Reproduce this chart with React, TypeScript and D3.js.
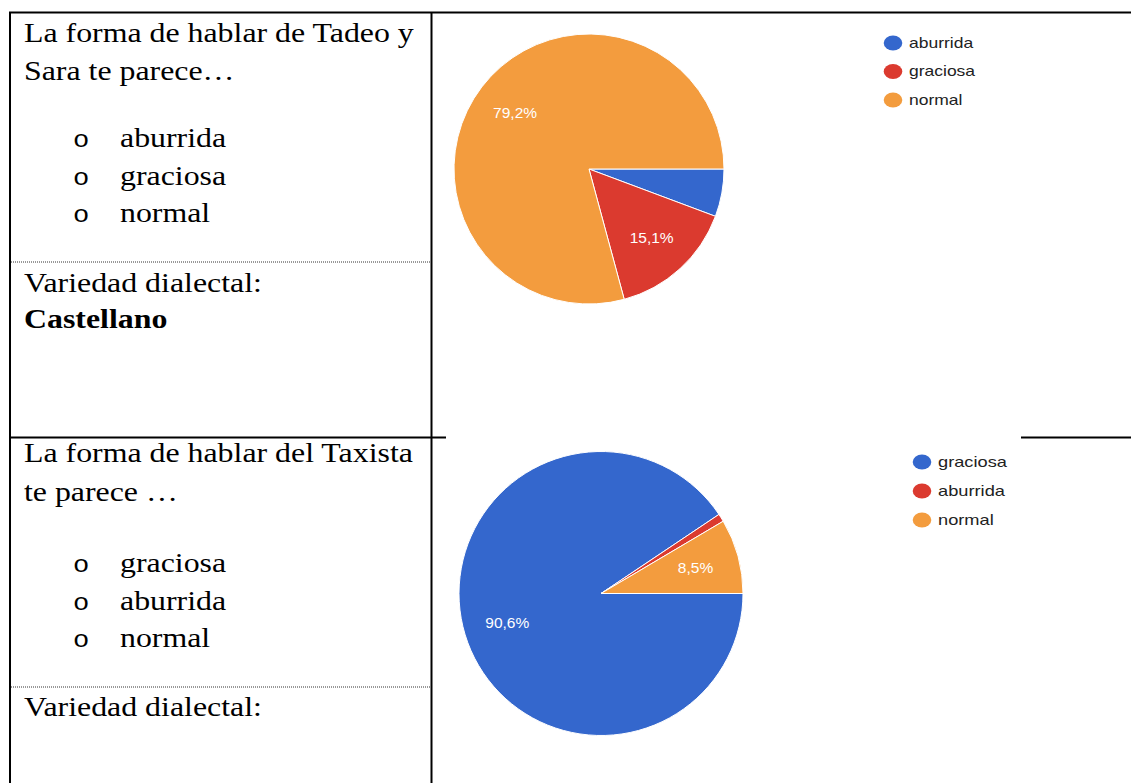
import React from "react";
import * as d3 from "d3";

// ---------- data ----------
const chart1Categories = ["aburrida", "graciosa", "normal"];
const chart1Values = [5.7, 15.1, 79.2];
const chart2Categories = ["graciosa", "aburrida", "normal"];
const chart2Values = [90.6, 0.9, 8.5];
const palette = ["#3467cd", "#db3a2f", "#f39c3e"];

const row1Question = ["La forma de hablar de Tadeo y", "Sara te parece…"];
const row1Options = ["aburrida", "graciosa", "normal"];
const row1Variety = "Variedad dialectal:";
const row1VarietyValue = "Castellano";
const row2Question = ["La forma de hablar del Taxista", "te parece …"];
const row2Options = ["graciosa", "aburrida", "normal"];
const row2Variety = "Variedad dialectal:";

const W = 1131;
const H = 783;
const SERIF = "'Liberation Serif', 'Times New Roman', serif";
const MONO = "'Liberation Mono', 'Courier New', monospace";
const SANS = "'Liberation Sans', Arial, Helvetica, sans-serif";
const STRETCH = 1.25;
const SERIF_STRETCH = 1.18;
const SERIF_SIZE = 27;

const fmt = d3.formatLocale({ decimal: ",", thousands: ".", grouping: [3], currency: ["", "€"] }).format(".1f");

type PieProps = {
  cx: number;
  cy: number;
  r: number;
  categories: string[];
  values: number[];
  legendX: number;
  legendY: number;
  legendStep: number;
  legendFont: number;
};

function PieChart({ cx, cy, r, categories, values, legendX, legendY, legendStep, legendFont }: PieProps) {
  const total = d3.sum(values);
  const pie = d3
    .pie<number>()
    .sort(null)
    .startAngle(Math.PI / 2)
    .endAngle(Math.PI / 2 + 2 * Math.PI)
    .value((d) => d);
  const arcs = pie(values);
  const arc = d3.arc<d3.PieArcDatum<number>>().innerRadius(0).outerRadius(r);
  const labelArc = d3.arc<d3.PieArcDatum<number>>().innerRadius(r * 0.69).outerRadius(r * 0.69);
  const color = d3.scaleOrdinal<string, string>().domain(categories).range(palette);
  const legendScale = d3.scalePoint<string>().domain(categories).range([0, legendStep * (categories.length - 1)]);

  return (
    <g>
      <g transform={`translate(${cx},${cy})`}>
        {arcs.map((a, i) => (
          <path key={i} d={arc(a) || ""} fill={color(categories[i])} stroke="#fff" strokeWidth={1} />
        ))}
        {arcs.map((a, i) => {
          if (a.value / total < 0.07) return null;
          const [lx, ly] = labelArc.centroid(a);
          return (
            <text
              key={"l" + i}
              x={lx}
              y={ly}
              textAnchor="middle"
              dominantBaseline="central"
              fill="#fff"
              fontFamily={SANS}
              fontSize={15.5}
            >
              {fmt(a.value) + "%"}
            </text>
          );
        })}
      </g>
      {categories.map((c, i) => {
        const y = legendY + (legendScale(c) as number);
        return (
          <g key={"lg" + i}>
            <ellipse cx={legendX} cy={y} rx={9.3} ry={7.6} fill={color(c)} />
            <text
              transform={`translate(${legendX + 16},${y}) scale(${STRETCH},1)`}
              dominantBaseline="central"
              fill="#222"
              fontFamily={SANS}
              fontSize={legendFont}
            >
              {c}
            </text>
          </g>
        );
      })}
    </g>
  );
}

function SText({
  x,
  y,
  text,
  bold,
  mono,
}: {
  x: number;
  y: number;
  text: string;
  bold?: boolean;
  mono?: boolean;
}) {
  return (
    <text
      transform={`translate(${x},${y}) scale(${SERIF_STRETCH},1)`}
      fontFamily={mono ? MONO : SERIF}
      fontSize={mono ? 23 : SERIF_SIZE}
      fontWeight={bold ? "bold" : "normal"}
      fill="#000"
    >
      {text}
    </text>
  );
}

export default function App() {
  return (
    <svg
      width={W}
      height={H}
      viewBox={`0 0 ${W} ${H}`}
      style={{ position: "absolute", left: 0, top: 0, background: "#fff" }}
    >
      <rect x={0} y={0} width={W} height={H} fill="#fff" />

      {/* table borders */}
      <line x1={9} y1={12.5} x2={W} y2={12.5} stroke="#000" strokeWidth={2} />
      <line x1={10} y1={12} x2={10} y2={H} stroke="#000" strokeWidth={2} />
      <line x1={431.5} y1={12} x2={431.5} y2={H} stroke="#000" strokeWidth={2} />
      <line x1={9} y1={437.5} x2={446} y2={437.5} stroke="#000" strokeWidth={2} />
      <line x1={1021} y1={437.5} x2={W} y2={437.5} stroke="#000" strokeWidth={2} />
      <line x1={11} y1={262} x2={430} y2={262} stroke="#333" strokeWidth={1} strokeDasharray="1,1" />
      <line x1={11} y1={687} x2={430} y2={687} stroke="#333" strokeWidth={1} strokeDasharray="1,1" />

      {/* row 1 text */}
      <SText x={24} y={42} text={row1Question[0]} />
      <SText x={24} y={80} text={row1Question[1]} />
      {row1Options.map((o, i) => (
        <g key={"r1o" + i}>
          <SText x={73} y={147 + i * 37.5} text="o" mono />
          <SText x={120} y={147 + i * 37.5} text={o} />
        </g>
      ))}
      <SText x={24} y={292} text={row1Variety} />
      <SText x={24} y={328} text={row1VarietyValue} bold />

      {/* row 2 text */}
      <SText x={24} y={462} text={row2Question[0]} />
      <SText x={24} y={501} text={row2Question[1]} />
      {row2Options.map((o, i) => (
        <g key={"r2o" + i}>
          <SText x={73} y={572 + i * 37.5} text="o" mono />
          <SText x={120} y={572 + i * 37.5} text={o} />
        </g>
      ))}
      <SText x={24} y={716} text={row2Variety} />

      {/* charts */}
      <PieChart
        cx={589}
        cy={169}
        r={135}
        categories={chart1Categories}
        values={chart1Values}
        legendX={893}
        legendY={43}
        legendStep={28.5}
        legendFont={14}
      />
      <PieChart
        cx={601}
        cy={593.5}
        r={142}
        categories={chart2Categories}
        values={chart2Values}
        legendX={922}
        legendY={462}
        legendStep={29}
        legendFont={14.6}
      />
    </svg>
  );
}
